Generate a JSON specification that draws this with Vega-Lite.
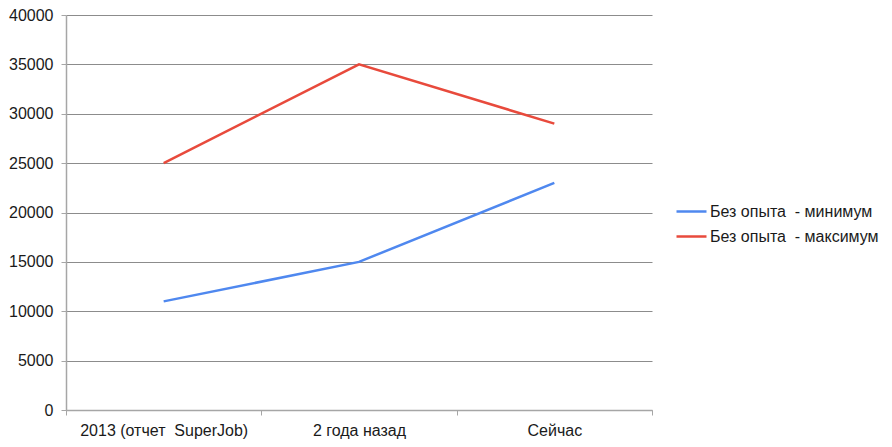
{
  "$schema": "https://vega.github.io/schema/vega-lite/v6.json",
  "autosize": {"type": "none"},
  "padding": {"left": 66, "top": 15, "right": 240, "bottom": 37},
  "width": 586,
  "height": 395,
  "background": "white",
  "config": {
    "view": {"stroke": null},
    "font": "Liberation Sans",
    "axis": {"labelFont": "Liberation Sans", "labelFontSize": 16, "labelColor": "#1a1a1a", "domainColor": "#a6a6a6", "tickColor": "#a6a6a6", "gridColor": "#8c8c8c"}
  },
  "data": {
    "values": [
      {"period": "2013 (отчет\u00a0 SuperJob)", "series": "Без опыта\u00a0 - минимум", "value": 11000},
      {"period": "2 года назад", "series": "Без опыта\u00a0 - минимум", "value": 15000},
      {"period": "Сейчас", "series": "Без опыта\u00a0 - минимум", "value": 23000},
      {"period": "2013 (отчет\u00a0 SuperJob)", "series": "Без опыта\u00a0 - максимум", "value": 25000},
      {"period": "2 года назад", "series": "Без опыта\u00a0 - максимум", "value": 35000},
      {"period": "Сейчас", "series": "Без опыта\u00a0 - максимум", "value": 29000}
    ]
  },
  "mark": {"type": "line", "strokeWidth": 2.5},
  "encoding": {
    "x": {
      "field": "period", "type": "nominal", "sort": null,
      "scale": {"paddingInner": 0, "paddingOuter": 0},
      "axis": {"title": null, "labelAngle": 0, "tickBand": "extent", "tickSize": 5, "labelPadding": 7, "domainWidth": 1.5, "grid": false}
    },
    "y": {
      "field": "value", "type": "quantitative",
      "scale": {"domain": [0, 40000], "nice": false},
      "axis": {"title": null, "values": [0,5000,10000,15000,20000,25000,30000,35000,40000], "format": "d", "tickSize": 5, "labelPadding": 8, "grid": true, "gridWidth": 1, "domainWidth": 1.5}
    },
    "color": {
      "field": "series", "type": "nominal", "sort": null,
      "scale": {"domain": ["Без опыта\u00a0 - минимум", "Без опыта\u00a0 - максимум"], "range": ["#4f88ef", "#e84a3c"]},
      "legend": {"title": null, "orient": "none", "legendX": 609, "legendY": 180, "symbolType": "stroke", "symbolSize": 900, "symbolStrokeWidth": 2.5, "labelFontSize": 16, "labelFont": "Liberation Sans", "labelColor": "#1a1a1a", "labelOffset": 2, "labelLimit": 260, "rowPadding": 0}
    }
  }
}
